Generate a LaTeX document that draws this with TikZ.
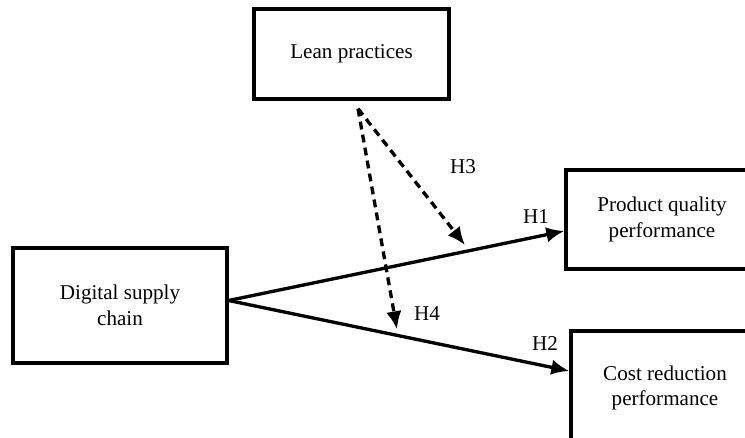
\documentclass[tikz,border=0pt]{standalone}
\usepackage{fontspec}
\setmainfont{Liberation Serif}
\usepackage{tikz}
\usepackage{xcolor}
\usetikzlibrary{arrows.meta}

\begin{document}
\begin{tikzpicture}[>={Latex[length=3.6mm,width=3.1mm]},line width=1.9pt,
    box/.style={draw,minimum width=#1,align=center,font=\fontsize{12}{14.5}\selectfont},
    lab/.style={font=\fontsize{12}{14.5}\selectfont}]
        \clip(0,0)rectangle(14.9,-8.76);
        \node[box=3.9cm,minimum height=1.8cm](lp)at(7.03,-1.08){Lean practices};
        \node[box=4.28cm,minimum height=2.3cm](dsc)at(2.4,-6.11){Digital supply\\chain};
        \node[box=3.84cm,minimum height=1.98cm](pq)at(13.24,-4.39){Product quality\\performance};
        \node[box=3.76cm,minimum height=2.28cm](cr)at(13.3,-7.76){Cost reduction\\performance};
        \draw[->]([yshift=0.1cm]dsc.east)--coordinate[pos=0.704](h3)([yshift=-0.23cm]pq.west);
        \draw[->]([yshift=0.1cm]dsc.east)--coordinate[pos=0.494](h4)([yshift=0.34cm]cr.west);
        \coordinate(src)at([shift={(0.13,-0.16)}]lp.south);
        \draw[->,dash pattern=on 4.5pt off 3pt](src)--([yshift=0.13cm]h3);
        \draw[->,dash pattern=on 4.5pt off 3pt](src)--([yshift=0.12cm]h4);
        \node[lab](l3)at(9.26,-3.34){H3};
        \node[lab](l1)at(10.72,-4.34){H1};
        \node[lab](l4)at(8.54,-6.28){H4};
        \node[lab](l2)at(10.9,-6.88){H2};
    \end{tikzpicture}
\end{document}
